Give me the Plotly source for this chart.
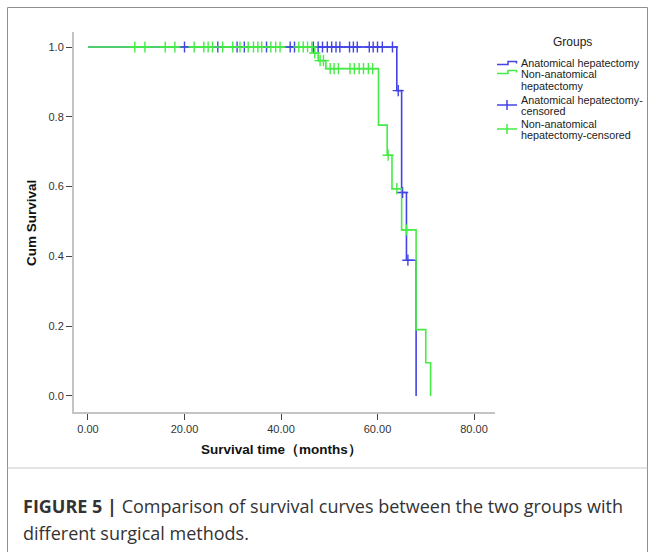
import plotly.graph_objects as go

# ---------------- data ----------------
blue_times = [0, 64.0, 65.0, 66.0, 68.0]
blue_surv = [1.0, 0.875, 0.583, 0.389, 0.0]

green_times = [0, 46.7, 47.7, 49.3, 60.2, 62.0, 63.0, 65.0, 68.0, 70.0, 71.0]
green_surv = [1.0, 0.983, 0.961, 0.938, 0.776, 0.690, 0.594, 0.476, 0.190, 0.095, 0.0]

blue_cens_t = [20.0, 26.9, 30.9, 32.4, 37.0, 41.9, 42.8, 46.7, 47.7, 48.6, 49.6, 50.5,
               51.4, 52.2, 54.2, 55.0, 55.8, 58.3, 59.1, 60.0, 61.0, 63.1,
               64.3, 65.2, 66.3]
blue_cens_s = [1.0] * 22 + [0.875, 0.583, 0.389]

green_cens_t = [9.7, 11.8, 16.0, 18.0, 22.0, 24.0, 24.9, 25.8, 27.9, 30.0, 31.5, 33.2,
                34.3, 35.2, 36.0, 37.9, 38.9, 39.8, 43.7, 44.6, 45.5, 46.4,
                47.0, 48.1, 48.8, 50.2, 51.0, 51.9, 54.3, 55.2, 56.2, 57.1, 58.1, 59.0,
                62.2, 64.0, 66.0]
green_cens_s = [1.0] * 22 + [0.983, 0.961, 0.961] + [0.938] * 9 + [0.690, 0.594, 0.476]

x_ticks = [0, 20, 40, 60, 80]
x_tick_labels = ["0.00", "20.00", "40.00", "60.00", "80.00"]
y_ticks = [0.0, 0.2, 0.4, 0.6, 0.8, 1.0]
y_tick_labels = ["0.0", "0.2", "0.4", "0.6", "0.8", "1.0"]

legend_title = "Groups"
legend_labels = [["Anatomical hepatectomy"],
                 ["Non-anatomical", "hepatectomy"],
                 ["Anatomical hepatectomy-", "censored"],
                 ["Non-anatomical", "hepatectomy-censored"]]

BLUE = "#4343e6"
GREEN = "#45ec45"
FONT = "Liberation Sans, Arial, sans-serif"
CAP_FONT = "Open Sans, Liberation Sans, Arial, sans-serif"

# ---------------- layout geometry ----------------
W, H = 655, 552
L, R, T, B = 74, 495, 32, 412


def px(x):
    return (x - L) / (R - L)


def py(y):
    return (B - y) / (B - T)


fig = go.Figure()
fig.add_trace(go.Scatter(x=blue_times, y=blue_surv, mode="lines", line_shape="hv",
                         line=dict(color=BLUE, width=1.6), hoverinfo="skip"))
fig.add_trace(go.Scatter(x=green_times, y=green_surv, mode="lines", line_shape="hv",
                         line=dict(color=GREEN, width=1.6), hoverinfo="skip"))
fig.add_trace(go.Scatter(x=blue_cens_t, y=blue_cens_s, mode="markers",
                         marker=dict(symbol="cross-thin", size=8,
                                     line=dict(color=BLUE, width=1.4)),
                         hoverinfo="skip"))
fig.add_trace(go.Scatter(x=green_cens_t, y=green_cens_s, mode="markers",
                         marker=dict(symbol="cross-thin", size=8,
                                     line=dict(color=GREEN, width=1.4)),
                         hoverinfo="skip"))

shapes = []
annotations = []

# frames
shapes.append(dict(type="rect", xref="paper", yref="paper",
                   x0=px(7.5), x1=px(647.5), y0=py(575), y1=py(7.5),
                   line=dict(color="#8f8f8f", width=1), layer="above"))
shapes.append(dict(type="line", xref="paper", yref="paper",
                   x0=px(7.5), x1=px(647.5), y0=py(468), y1=py(468),
                   line=dict(color="#c8c8c8", width=1), layer="above"))

# axis titles
annotations.append(dict(text="<b>Cum Survival</b>", xref="paper", yref="paper",
                        x=px(31), y=py(223), textangle=-90, showarrow=False,
                        font=dict(family=FONT, size=13.5, color="#111"),
                        xanchor="center", yanchor="middle"))
annotations.append(dict(text="<b>Survival time（months）</b>", xref="paper", yref="paper",
                        x=px(281), y=py(449), showarrow=False,
                        font=dict(family=FONT, size=13.5, color="#111"),
                        xanchor="center", yanchor="middle"))

# legend
annotations.append(dict(text=legend_title, xref="paper", yref="paper",
                        x=px(572), y=py(42), showarrow=False,
                        font=dict(family=FONT, size=12, color="#222"),
                        xanchor="center", yanchor="middle"))
row_y = [[63.5], [74.5, 85.5], [99.5, 110.5], [123.5, 134.5]]
for lines, ys in zip(legend_labels, row_y):
    for t, yy in zip(lines, ys):
        annotations.append(dict(text=t, xref="paper", yref="paper",
                                x=px(519), y=py(yy), showarrow=False,
                                font=dict(family=FONT, size=10.8, color="#222"),
                                xanchor="left", yanchor="middle"))


def step_icon(y, color):
    pts = [(497, y + 1.5), (508, y + 1.5), (508, y - 1.5), (516.5, y - 1.5), (516.5, y + 0.5)]
    path = "M " + " L ".join(f"{px(a)},{py(b)}" for a, b in pts)
    return dict(type="path", xref="paper", yref="paper", path=path,
                line=dict(color=color, width=1.5), layer="above")


def cross_icon(y, color):
    return [dict(type="line", xref="paper", yref="paper", x0=px(497), x1=px(517),
                 y0=py(y), y1=py(y), line=dict(color=color, width=1.5)),
            dict(type="line", xref="paper", yref="paper", x0=px(507), x1=px(507),
                 y0=py(y - 5), y1=py(y + 5), line=dict(color=color, width=1.5))]


shapes.append(step_icon(63, BLUE))
shapes.append(step_icon(72, GREEN))
shapes += cross_icon(105, BLUE)
shapes += cross_icon(129, GREEN)

# caption
annotations.append(dict(text="<b>FIGURE 5 |</b> Comparison of survival curves between the two groups with",
                        xref="paper", yref="paper", x=px(21), y=py(506), showarrow=False,
                        font=dict(family=CAP_FONT, size=18, color="#333"),
                        xanchor="left", yanchor="middle"))
annotations.append(dict(text="different surgical methods.",
                        xref="paper", yref="paper", x=px(21), y=py(533), showarrow=False,
                        font=dict(family=CAP_FONT, size=18, color="#333"),
                        xanchor="left", yanchor="middle"))

fig.update_layout(
    width=W, height=H,
    margin=dict(l=L, r=W - R, t=T, b=H - B, pad=0),
    paper_bgcolor="white", plot_bgcolor="white",
    showlegend=False,
    shapes=shapes, annotations=annotations,
    font=dict(family=FONT, size=11, color="#333"),
    xaxis=dict(range=[-2.9, 84.35], tickvals=x_ticks, ticktext=x_tick_labels,
               showgrid=False, zeroline=False, showline=True, linecolor="#c4c4c4",
               linewidth=2, ticks="outside", ticklen=6, tickcolor="#444", tickwidth=1,
               tickfont=dict(family=FONT, size=11, color="#333")),
    yaxis=dict(range=[-0.046, 1.043], tickvals=y_ticks, ticktext=y_tick_labels,
               showgrid=False, zeroline=False, showline=True, linecolor="#c4c4c4",
               linewidth=2, ticks="outside", ticklen=6, tickcolor="#444", tickwidth=1,
               tickfont=dict(family=FONT, size=11, color="#333")),
)

fig.write_html("out.html")
